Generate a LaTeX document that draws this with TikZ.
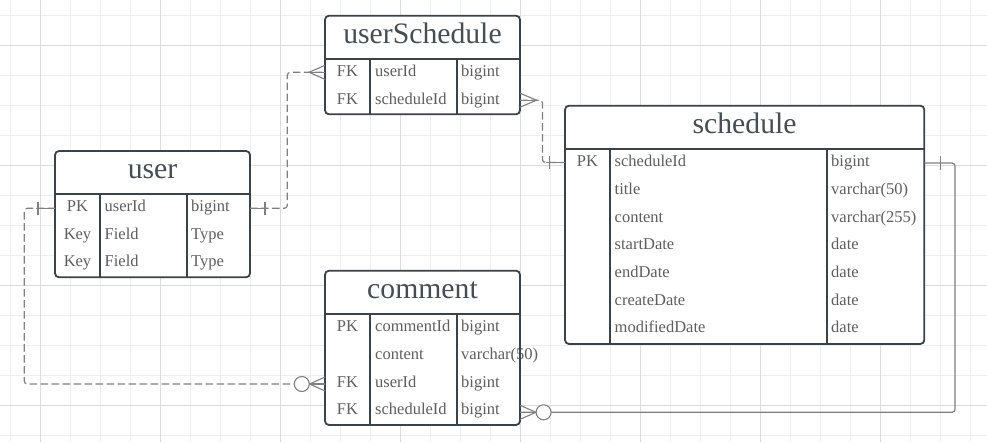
\documentclass[tikz,border=0pt]{standalone}
\usepackage{fontspec}
\setmainfont{Liberation Serif}
\definecolor{gridminor}{HTML}{EEEEEE}
\definecolor{gridmajor}{HTML}{DCDCDC}
\definecolor{boxc}{HTML}{3C424A}
\definecolor{titlec}{HTML}{474D55}
\definecolor{rowc}{HTML}{5E5E5E}
\definecolor{linec}{HTML}{808080}
\newcommand\tbltitlefont{\fontsize{29.7}{32}\selectfont}
\newcommand\tblrowfont{\fontsize{16.5}{18}\selectfont}
\begin{document}
\begin{tikzpicture}[x=1pt,y=-1pt,
  gmin/.style={draw=gridminor,line width=0.9pt},
  gmaj/.style={draw=gridmajor,line width=0.9pt},
  tblfill/.style={fill=white,draw=none,inner sep=0pt,outer sep=0pt,anchor=north west},
  tblborder/.style={draw=boxc,line width=1.8pt,rounded corners=4pt},
  tbldiv/.style={draw=boxc,line width=1.8pt},
  ttl/.style={anchor=base,inner sep=0pt,font=\tbltitlefont,text=titlec},
  fld/.style={anchor=base west,inner sep=0pt,font=\tblrowfont,text=rowc},
  keyc/.style={anchor=base,inner sep=0pt,font=\tblrowfont,text=rowc},
  conn/.style={draw=linec,line width=1.2pt,rounded corners=3pt},
  dconn/.style={conn,dash pattern=on 7.5pt off 3.5pt},
  ermark/.style={draw=linec,line width=1.1pt},
  ercirc/.style={draw=linec,line width=1.1pt,fill=white,circle,minimum size=15pt,inner sep=0pt}
]
\useasboundingbox (0,0) rectangle (987,442);
\fill[white] (0,0) rectangle (987,442);
% grid
\foreach \i in {0,...,32} {\pgfmathsetmacro\gx{10+30*\i}\draw[gmin] (\gx,0) -- (\gx,442);}
\foreach \i in {0,...,14} {\pgfmathsetmacro\gy{15+30*\i}\draw[gmin] (0,\gy) -- (987,\gy);}
\foreach \gx in {40,160,280,400,520,640,760,880} {\draw[gmaj] (\gx,0) -- (\gx,442);}
\foreach \gy in {45,165,285,405} {\draw[gmaj] (0,\gy) -- (987,\gy);}

% ---------- userSchedule ----------
\node[tblfill,minimum width=195pt,minimum height=98.6pt] (userSchedule) at (325,15.7) {};
\node[ttl] (us-title) at (422.5,43.2) {userSchedule};
\node[keyc] (us-k1) at (347.5,76.7) {FK};
\node[fld] (us-f1) at (375,76.7) {userId};
\node[fld] (us-t1) at (461,76.7) {bigint};
\node[keyc] (us-k2) at (347.5,104.4) {FK};
\node[fld] (us-f2) at (375,104.4) {scheduleId};
\node[fld] (us-t2) at (461,104.4) {bigint};
\draw[tbldiv] (325,59.3) -- (520,59.3) (370,59.3) -- (370,114.3) (456.7,59.3) -- (456.7,114.3);
\draw[tblborder] (userSchedule.north west) rectangle (userSchedule.south east);

% ---------- user ----------
\node[tblfill,minimum width=195pt,minimum height=126.3pt] (user) at (55,151) {};
\node[ttl] (user-title) at (152.5,178.2) {user};
\node[keyc] (user-k1) at (77.5,211.4) {PK};
\node[fld] (user-f1) at (104.5,211.4) {userId};
\node[fld] (user-t1) at (191,211.4) {bigint};
\node[keyc] (user-k2) at (77.5,239.1) {Key};
\node[fld] (user-f2) at (104.5,239.1) {Field};
\node[fld] (user-t2) at (191,239.1) {Type};
\node[keyc] (user-k3) at (77.5,266.8) {Key};
\node[fld] (user-f3) at (104.5,266.8) {Field};
\node[fld] (user-t3) at (191,266.8) {Type};
\draw[tbldiv] (55,194) -- (250,194) (100,194) -- (100,277.3) (186.7,194) -- (186.7,277.3);
\draw[tblborder] (user.north west) rectangle (user.south east);

% ---------- schedule ----------
\node[tblfill,minimum width=359.3pt,minimum height=238.3pt] (schedule) at (565,105.7) {};
\node[ttl] (sch-title) at (744.6,133.2) {schedule};
\node[keyc] (sch-k1) at (587.5,166.7) {PK};
\node[fld] (sch-f1) at (614.5,166.7) {scheduleId};
\node[fld] (sch-t1) at (831,166.7) {bigint};
\node[fld] (sch-f2) at (614.5,194.4) {title};
\node[fld] (sch-t2) at (831,194.4) {varchar(50)};
\node[fld] (sch-f3) at (614.5,222.1) {content};
\node[fld] (sch-t3) at (831,222.1) {varchar(255)};
\node[fld] (sch-f4) at (614.5,249.8) {startDate};
\node[fld] (sch-t4) at (831,249.8) {date};
\node[fld] (sch-f5) at (614.5,277.5) {endDate};
\node[fld] (sch-t5) at (831,277.5) {date};
\node[fld] (sch-f6) at (614.5,305.2) {createDate};
\node[fld] (sch-t6) at (831,305.2) {date};
\node[fld] (sch-f7) at (614.5,332.9) {modifiedDate};
\node[fld] (sch-t7) at (831,332.9) {date};
\draw[tbldiv] (565,149.3) -- (924.3,149.3) (610,149.3) -- (610,344) (826.7,149.3) -- (826.7,344);
\draw[tblborder] (schedule.north west) rectangle (schedule.south east);

% ---------- comment ----------
\node[tblfill,minimum width=195pt,minimum height=154.3pt] (comment) at (325,270.7) {};
\node[ttl] (cm-title) at (422.5,298.2) {comment};
\node[keyc] (cm-k1) at (347.5,331.7) {PK};
\node[fld] (cm-f1) at (375,331.7) {commentId};
\node[fld] (cm-t1) at (461,331.7) {bigint};
\node[fld] (cm-f2) at (375,359.4) {content};
\node[fld] (cm-t2) at (461,359.4) {varchar(50)};
\node[keyc] (cm-k3) at (347.5,387.1) {FK};
\node[fld] (cm-f3) at (375,387.1) {userId};
\node[fld] (cm-t3) at (461,387.1) {bigint};
\node[keyc] (cm-k4) at (347.5,414.8) {FK};
\node[fld] (cm-f4) at (375,414.8) {scheduleId};
\node[fld] (cm-t4) at (461,414.8) {bigint};
\draw[tbldiv] (325,314.3) -- (520,314.3) (370,314.3) -- (370,425) (456.7,314.3) -- (456.7,425);
\draw[tblborder] (comment.north west) rectangle (comment.south east);

% ---------- connection points ----------
\coordinate (user-pk-E) at (250,208.3);
\coordinate (user-pk-W) at (55,208.3);
\coordinate (us-uid-W) at (325,72.3);
\coordinate (us-sid-E) at (520,100.2);
\coordinate (sch-pk-W) at (565,162.5);
\coordinate (sch-pk-E) at (924.3,163);
\coordinate (cm-uid-W) at (325,384);
\coordinate (cm-sid-E) at (520,412.3);
\coordinate (bend1) at (287.3,0);
\coordinate (bend2) at (542.5,0);
\coordinate (bend3) at (24.3,0);
\coordinate (bend4) at (955,0);

% user.userId -- userSchedule.userId
\draw[dconn] (user-pk-E) -- (bend1 |- user-pk-E) -- (bend1 |- us-uid-W) -- (us-uid-W);
\draw[ermark] (user-pk-E) -- ++(18,0);
\draw[ermark] (user-pk-E) ++(15,-6.6) -- ++(0,13.2);
\draw[ermark] (us-uid-W) -- ++(-17,0);
\draw[ermark] (us-uid-W) ++(0,-7) -- ++(-16,7) -- ++(16,7);

% userSchedule.scheduleId -- schedule.scheduleId
\draw[dconn] (us-sid-E) -- (bend2 |- us-sid-E) -- (bend2 |- sch-pk-W) -- (sch-pk-W);
\draw[ermark] (us-sid-E) -- ++(17,0);
\draw[ermark] (us-sid-E) ++(0,-7) -- ++(16.5,7) -- ++(-16.5,7);
\draw[ermark] (sch-pk-W) -- ++(-19,0);
\draw[ermark] (sch-pk-W) ++(-15.5,-6.6) -- ++(0,13.2);

% user.userId -- comment.userId
\draw[dconn] (user-pk-W) -- (bend3 |- user-pk-W) -- (bend3 |- cm-uid-W) -- (cm-uid-W);
\draw[ermark] (user-pk-W) -- ++(-19,0);
\draw[ermark] (user-pk-W) ++(-17,-6.6) -- ++(0,13.2);
\draw[ermark] (cm-uid-W) -- ++(-16,0);
\draw[ermark] (cm-uid-W) ++(0,-7) -- ++(-15.5,7) -- ++(15.5,7);
\node[ercirc] (cm-uid-circ) at (301.8,384) {};

% comment.scheduleId -- schedule.scheduleId
\draw[conn] (cm-sid-E) -- (bend4 |- cm-sid-E) -- (bend4 |- sch-pk-E) -- (sch-pk-E);
\draw[ermark] (cm-sid-E) ++(0,-7) -- ++(16,7) -- ++(-16,7);
\node[ercirc] (cm-sid-circ) at (543.6,412.3) {};
\draw[ermark] (sch-pk-E) ++(16.4,-7) -- ++(0,14);
\end{tikzpicture}
\end{document}
